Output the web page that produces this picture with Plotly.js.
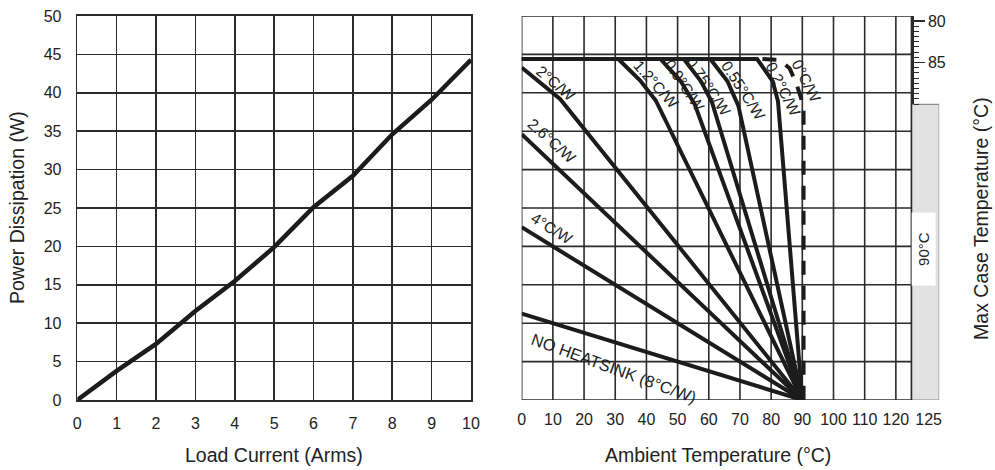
<!DOCTYPE html>
<html>
<head>
<meta charset="utf-8">
<script src="https://cdn.plot.ly/plotly-3.0.1.min.js"></script>
<style>html,body{margin:0;padding:0;background:#fff;}#chart{width:995px;height:470px;}</style>
</head>
<body>
<div id="chart"></div>
<script>
// ---------- Left chart data ----------
const loadCurrent = [0, 1, 2, 3, 4, 5, 6, 7, 8, 9, 10];
const powerDissipation = [0, 3.8, 7.3, 11.6, 15.5, 19.9, 25.1, 29.2, 34.6, 39.1, 44.3];
const powerTicks = [0, 5, 10, 15, 20, 25, 30, 35, 40, 45, 50];

// ---------- Right chart data (ambient °C vs power W) ----------
const ambientTicks = [0, 10, 20, 30, 40, 50, 60, 70, 80, 90, 100, 110, 120, 125];
const ambientGrid = [0, 10, 20, 30, 40, 50, 60, 70, 80, 90, 100, 110, 120, 125];

const noSinkT = [0, 90];          const noSinkP = [11.25, 0];
const r4T = [0, 90];              const r4P = [22.5, 0];
const r26T = [0, 90];             const r26P = [34.6, 0];
const r2T = [0, 12.3, 90];        const r2P = [43.3, 39.2, 0];
const r12T = [0, 31, 38, 43, 90]; const r12P = [44.4, 44.4, 41.6, 39.0, 0];
const r09T = [0, 44.5, 51, 55.5, 90];   const r09P = [44.4, 44.4, 41.5, 38.5, 0];
const r075T = [0, 52, 57.5, 61, 90];    const r075P = [44.4, 44.4, 41.5, 38.8, 0];
const r055T = [0, 60.5, 66, 69.5, 90];  const r055P = [44.4, 44.4, 41.5, 38.3, 0];
const r02T = [0, 75.5, 80.5, 82.2, 90]; const r02P = [44.4, 44.4, 41.5, 38.9, 0];
const r0T = [77.2, 82.5, 85.9, 88, 89.6, 90.4, 90.4];
const r0P = [44.4, 44.3, 43.2, 41.3, 39.3, 37.8, 0];

const curveLabels = ['NO HEATSINK (8°C/W)', '4°C/W', '2.6°C/W', '2°C/W', '1.2°C/W', '0.9°C/W', '0.75°C/W', '0.55°C/W', '0.2°C/W', '0°C/W'];

// Max case temperature axis
const caseTempTicks = [80, 85];
const caseLimitLabel = '90°C';
const caseLimitPower = 38.5;

// ---------- Styles ----------
const FONT = 'Liberation Sans, Arial, Helvetica, sans-serif';
const INK = '#1c1c1c';
const GRID = '#2b2b2b';
const TXT = '#222';

const solidCurves = [
  [noSinkT, noSinkP], [r4T, r4P], [r26T, r26P], [r2T, r2P], [r12T, r12P],
  [r09T, r09P], [r075T, r075P], [r055T, r055P], [r02T, r02P]
];

const traces = [];
traces.push({
  x: loadCurrent, y: powerDissipation, type: 'scatter', mode: 'lines',
  line: {color: INK, width: 4.5}, xaxis: 'x', yaxis: 'y', hoverinfo: 'skip'
});
solidCurves.forEach(c => {
  traces.push({x: c[0], y: c[1], type: 'scatter', mode: 'lines',
    line: {color: INK, width: 4}, xaxis: 'x2', yaxis: 'y2', hoverinfo: 'skip'});
});
traces.push({x: r0T, y: r0P, type: 'scatter', mode: 'lines',
  line: {color: INK, width: 4, dash: '14px,11px'}, xaxis: 'x2', yaxis: 'y2', hoverinfo: 'skip'});
// anchor trace for case-temperature axis
traces.push({x: [], y: [], type: 'scatter', mode: 'lines', xaxis: 'x2', yaxis: 'y3', hoverinfo: 'skip'});

const shapes = [];
// gray limit bar
shapes.push({type: 'rect', xref: 'x2', yref: 'y2', x0: 125, x1: 133.9, y0: 0, y1: caseLimitPower,
  fillcolor: '#e2e2e2', line: {color: '#8a8a8a', width: 1.2}, layer: 'below'});
// grid of the right chart
powerTicks.forEach(p => {
  shapes.push({type: 'line', xref: 'x2', yref: 'y2', x0: 0, x1: 125, y0: p, y1: p,
    line: {color: GRID, width: 1.6}, layer: 'below'});
});
ambientGrid.forEach(t => {
  shapes.push({type: 'line', xref: 'x2', yref: 'y2', x0: t, x1: t, y0: 0, y1: 50,
    line: {color: GRID, width: 1.6}, layer: 'below'});
});

// tick label positions for the right x axis (last label sits in the middle of the bar)
const ambientTickPos = ambientTicks.map((v, i) => i === ambientTicks.length - 1 ? 130.5 : v);

const labelPos = [
  [29.5, 4.2, 20], [9.7, 22.3, 32], [9.6, 33.8, 42], [11.0, 41.2, 40], [43.2, 41.1, 48],
  [52.2, 40.9, 56], [59.9, 40.8, 56], [71.1, 40.3, 57], [83.7, 40.5, 63], [91.2, 41.6, 63]
];
const annotations = curveLabels.map((t, i) => ({
  text: t, xref: 'x2', yref: 'y2', x: labelPos[i][0], y: labelPos[i][1],
  textangle: labelPos[i][2], showarrow: false, xanchor: 'center', yanchor: 'middle',
  font: {family: FONT, size: i === 0 ? 16.5 : 15.5, color: TXT}
}));
annotations.push({
  text: caseLimitLabel, xref: 'x2', yref: 'y2', x: 128.9, y: 19.6, textangle: -90,
  showarrow: false, bgcolor: '#ffffff', width: 70, height: 21, xanchor: 'center', yanchor: 'middle',
  font: {family: FONT, size: 15, color: TXT}
});
const titleFont = {family: FONT, size: 19.5, color: TXT};
const mkTitle = (text, x, y, angle) => ({text: text, xref: 'paper', yref: 'paper', x: x, y: y,
  textangle: angle, showarrow: false, xanchor: 'center', yanchor: 'middle', font: titleFont});
annotations.push(mkTitle('Power Dissipation (W)', 0.0171, 0.5, -90));
annotations.push(mkTitle('Load Current (Arms)', 0.2757, -0.143, 0));
annotations.push(mkTitle('Ambient Temperature (°C)', 0.7216, -0.143, 0));
annotations.push(mkTitle('Max Case Temperature (°C)', 0.9859, 0.474, -90));

const tickFont = {family: FONT, size: 16, color: TXT};
const layout = {
  width: 995, height: 470,
  margin: {l: 0, r: 0, t: 16, b: 70},
  paper_bgcolor: '#ffffff', plot_bgcolor: 'rgba(0,0,0,0)',
  showlegend: false,
  xaxis: {domain: [0.07769, 0.47337], range: [0, 10], tickvals: loadCurrent,
    showgrid: true, gridcolor: GRID, gridwidth: 1.6, showline: true, mirror: true,
    linecolor: GRID, linewidth: 1.6, zeroline: false, ticks: '', tickfont: tickFont,
    ticklabelstandoff: 8, fixedrange: true},
  yaxis: {domain: [0, 1], range: [0, 50], tickvals: powerTicks,
    showgrid: true, gridcolor: GRID, gridwidth: 1.6, showline: true, mirror: true,
    linecolor: GRID, linewidth: 1.6, zeroline: false, ticks: '', tickfont: tickFont,
    ticklabelstandoff: 11, fixedrange: true},
  xaxis2: {domain: [0.52432, 0.94392], range: [0, 133.9], anchor: 'y2',
    tickvals: ambientTickPos, ticktext: ambientTicks.map(String),
    showgrid: false, showline: false, zeroline: false, ticks: '', tickfont: tickFont,
    ticklabelstandoff: 8, fixedrange: true},
  yaxis2: {domain: [0, 1], range: [0, 50], anchor: 'x2', showticklabels: false,
    showgrid: false, showline: false, zeroline: false, ticks: '', fixedrange: true},
  yaxis3: {domain: [0.7708, 1], range: [90, 79.4], anchor: 'free', position: 0.9169,
    side: 'right', tickmode: 'array', tickvals: caseTempTicks, ticks: 'outside', ticklen: 11, tickwidth: 1.4,
    tickcolor: GRID, showline: true, linecolor: GRID, linewidth: 1.4, showgrid: false,
    zeroline: false, tickfont: tickFont,
    minor: {tickmode: 'linear', tick0: 80, dtick: 0.625, ticks: 'outside', ticklen: 5,
      tickwidth: 1, tickcolor: GRID, showgrid: false},
    fixedrange: true},
  shapes: shapes,
  annotations: annotations
};

Plotly.newPlot('chart', traces, layout, {displayModeBar: false, staticPlot: true});
</script>
</body>
</html>
